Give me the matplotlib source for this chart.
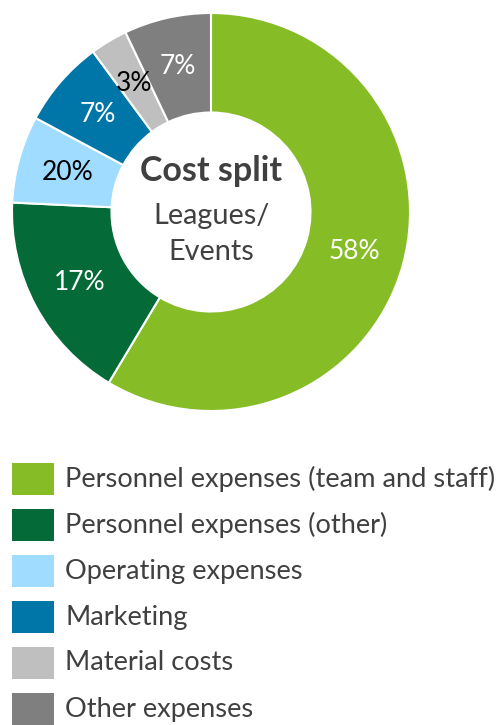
import matplotlib
matplotlib.use("Agg")
import matplotlib.pyplot as plt
from matplotlib.patches import Rectangle
import numpy as np

plt.rcParams['font.family'] = ['Lato', 'DejaVu Sans']

categories = ["Personnel expenses (team and staff)", "Personnel expenses (other)",
              "Operating expenses", "Marketing", "Material costs", "Other expenses"]
values = [58, 17, 7, 7, 3, 7]
labels = ["58%", "17%", "20%", "7%", "3%", "7%"]
colors = ["#86BC25", "#046A38", "#A0DCFF", "#0076A8", "#BFBFBF", "#7F7F7F"]
label_colors = ["white", "white", "black", "white", "black", "white"]

W, H = 498, 725
fig = plt.figure(figsize=(W / 100, H / 100), dpi=100)

# donut axes: center (211,212), radius 199 px
cx, cy, R = 211, 212, 199
ax = fig.add_axes([(cx - R) / W, (H - cy - R) / H, 2 * R / W, 2 * R / H])
wedges, _ = ax.pie(values, startangle=90, counterclock=False, colors=colors,
                   radius=1.0, wedgeprops=dict(width=0.5, edgecolor="white", linewidth=1.5))
ax.set_xlim(-1, 1)
ax.set_ylim(-1, 1)
ax.set_aspect("equal")
ax.axis("off")

total = sum(values)
cum = 0
for v, lab, lc in zip(values, labels, label_colors):
    mid = (cum + v / 2) / total * 2 * np.pi
    cum += v
    x = 0.75 * np.sin(mid)
    y = 0.75 * np.cos(mid)
    ax.text(x, y, lab, ha="center", va="center", color=lc, fontsize=19)

ax.text(0, 0.205, "Cost split", ha="center", va="center", color="#404040",
        fontsize=24.5, fontweight="bold")
ax.text(0, -0.02, "Leagues/", ha="center", va="center", color="#404040", fontsize=20.8)
ax.text(0, -0.2, "Events", ha="center", va="center", color="#404040", fontsize=20.8)

# legend
row_y = [479, 525, 571, 617, 663, 709]
for cat, col, yy in zip(categories, colors, row_y):
    fig.patches.append(Rectangle((12 / W, (H - yy - 16) / H), 42 / W, 32 / H,
                                 transform=fig.transFigure, facecolor=col, edgecolor="none"))
    fig.text(65 / W, (H - yy) / H, cat, ha="left", va="center", color="#404040", fontsize=19.6)

fig.savefig("out.png", dpi=100)
